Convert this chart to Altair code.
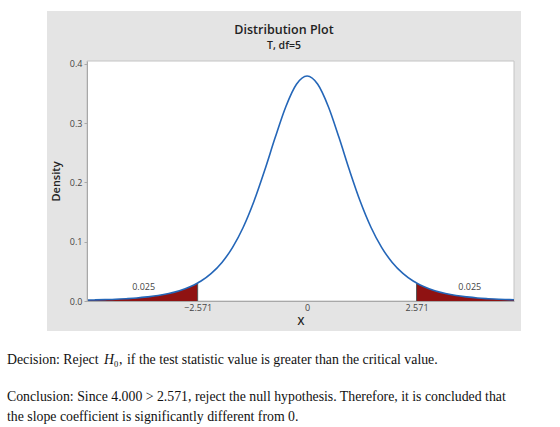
import altair as alt
import pandas as pd

# ---- data (Student t, df=5 density) ----
x_vals = [-5.17, -5.0, -4.75, -4.5, -4.25, -4.0, -3.75, -3.5, -3.25, -3.0, -2.75, -2.571,
          -2.5, -2.25, -2.0, -1.75, -1.5, -1.25, -1.0, -0.75, -0.5, -0.25, 0.0,
          0.25, 0.5, 0.75, 1.0, 1.25, 1.5, 1.75, 2.0, 2.25, 2.5, 2.571, 2.75,
          3.0, 3.25, 3.5, 3.75, 4.0, 4.25, 4.5, 4.75, 4.86]
density = [0.0015, 0.0018, 0.0023, 0.0029, 0.0039, 0.0051, 0.0069, 0.0092, 0.0126, 0.0173, 0.0239, 0.0303,
           0.0333, 0.0466, 0.0651, 0.0905, 0.1245, 0.1679, 0.2197, 0.2757, 0.3279, 0.3657, 0.3796,
           0.3657, 0.3279, 0.2757, 0.2197, 0.1679, 0.1245, 0.0905, 0.0651, 0.0466, 0.0333, 0.0303, 0.0239,
           0.0173, 0.0126, 0.0092, 0.0069, 0.0051, 0.0039, 0.0029, 0.0023, 0.0020]
critical = [-2.571, 2.571]
crit_density = [0.0303, 0.0303]
tail_labels = ["0.025", "0.025"]
tail_label_x = [-3.84, 3.82]
tail_label_y = [0.0236, 0.0236]
y_ticks = [0.0, 0.1, 0.2, 0.3, 0.4]
x_ticks = [-2.571, 0.0, 2.571]

curve = pd.DataFrame({"x": x_vals, "density": density})
left_tail = curve[curve["x"] <= critical[0]]
right_tail = curve[curve["x"] >= critical[1]]
crit_df = pd.DataFrame({"x": critical, "d": crit_density})
lab_df = pd.DataFrame({"x": tail_label_x, "y": tail_label_y, "t": tail_labels})

W, H = 427, 240
SANS = "Open Sans"
SERIF = "Liberation Serif"
BLUE = "#2466b8"
RED = "#8f1212"
FS = 13.8

xs = alt.Scale(domain=[-5.17, 4.86], nice=False, zero=False)
ys = alt.Scale(domain=[0, 0.405], nice=False)

one = alt.Data(values=[{"k": 1}])

def box(x1, x2, y1, y2, fill, stroke=None):
    kw = dict(fill=fill)
    if stroke:
        kw.update(stroke=stroke, strokeWidth=1)
    return alt.Chart(one).mark_rect(**kw).encode(
        x=alt.value(x1), x2=alt.value(x2), y=alt.value(y1), y2=alt.value(y2))

def txt(s, x, y, size, font, **kw):
    return alt.Chart(one).mark_text(text=s, fontSize=size, font=font, **kw).encode(
        x=alt.value(x), y=alt.value(y))

frame = box(-40, 434, -50, 270, "#e4e4e4")
plotbg = box(0, W, 0, H, "#ffffff", "#c4c4c4")

x_axis = alt.Axis(values=x_ticks, format=".3~f", title="X", ticks=False, labelPadding=2,
                  labelFontSize=9, labelFont=SANS, labelColor="#444", titleFont=SANS,
                  titleFontSize=11, titleFontWeight=600, titleColor="#222", titlePadding=3,
                  domainColor="#a8a8a8", grid=False, zindex=1, labelFlush=False)
y_axis = alt.Axis(values=y_ticks, format=".1f", title="Density", tickSize=3, tickColor="#a8a8a8",
                  labelFontSize=9, labelFont=SANS, labelColor="#444", labelPadding=2,
                  titleFont=SANS, titleFontSize=11, titleFontWeight=600, titleColor="#222",
                  titlePadding=8, domainColor="#a8a8a8", grid=False, zindex=1)

area_l = alt.Chart(left_tail).mark_area(color=RED, interpolate="monotone").encode(
    x=alt.X("x:Q", scale=xs, axis=x_axis), y=alt.Y("density:Q", scale=ys, axis=y_axis))
area_r = alt.Chart(right_tail).mark_area(color=RED, interpolate="monotone").encode(
    x=alt.X("x:Q", scale=xs), y=alt.Y("density:Q", scale=ys))
rules = alt.Chart(crit_df).mark_rule(color="#555555", strokeWidth=1).encode(
    x=alt.X("x:Q", scale=xs), y=alt.Y("d:Q", scale=ys), y2=alt.value(H))
line = alt.Chart(curve).mark_line(color=BLUE, strokeWidth=1.6, interpolate="monotone").encode(
    x=alt.X("x:Q", scale=xs), y=alt.Y("density:Q", scale=ys))
labels = alt.Chart(lab_df).mark_text(fontSize=9, font=SANS, color="#444").encode(
    x=alt.X("x:Q", scale=xs), y=alt.Y("y:Q", scale=ys), text="t:N")

title = txt("Distribution Plot", 197, -31, 12.5, SANS, fontWeight=600, color="#222")
subtitle = txt("T, df=5", 197, -15, 10.5, SANS, fontWeight=600, color="#222")

base_y = 299
dec1 = txt("Decision: Reject", -80, base_y, FS, SERIF, align="left", color="#111")
dec_h = txt("H", 17, base_y, FS, SERIF, align="left", fontStyle="italic", color="#111")
dec_0 = txt("0", 27, base_y + 4, 8.5, SERIF, align="left", color="#111")
dec_c = txt(",", 32, base_y, FS, SERIF, align="left", color="#111")
dec2 = txt("if the test statistic value is greater than the critical value.", 40, base_y, FS, SERIF,
           align="left", color="#111")
con1 = txt("Conclusion: Since 4.000 > 2.571,  reject the null hypothesis. Therefore, it is concluded that",
           -80, 336, FS, SERIF, align="left", color="#111")
con2 = txt("the slope coefficient is significantly different from 0.", -80, 356, FS, SERIF,
           align="left", color="#111")

chart = alt.layer(
    frame, plotbg, area_l, area_r, rules, line, labels, title, subtitle,
    dec1, dec_h, dec_0, dec_c, dec2, con1, con2
).properties(
    width=W, height=H,
    autosize=alt.AutoSizeParams(type="none"),
    padding={"left": 87, "top": 61, "right": 46, "bottom": 126},
    background="white",
).configure_view(strokeWidth=0)

chart.save("out.html", embed_options={"renderer": "svg", "actions": False})
